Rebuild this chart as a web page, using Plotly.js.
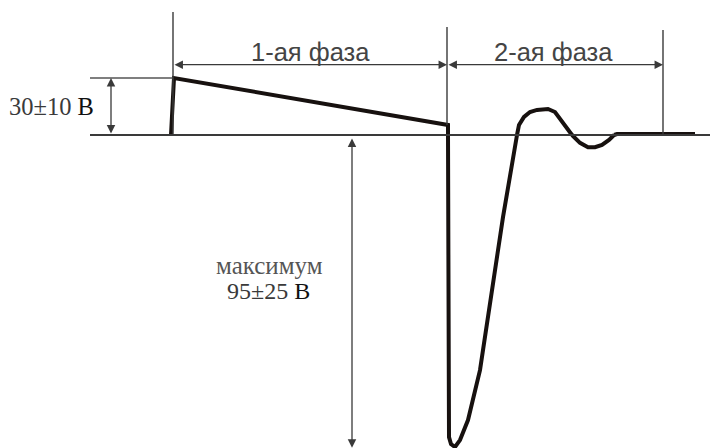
<!DOCTYPE html>
<html>
<head>
<meta charset="utf-8">
<script src="https://cdn.plot.ly/plotly-3.0.1.min.js"></script>
<style>
  html, body { margin: 0; padding: 0; background: #fff; }
  #chart { width: 710px; height: 448px; }
</style>
</head>
<body>
<div id="chart"></div>
<script>
// Dimension values (volts) and their captions
const stepLevel = 30;
const dipMax = 95;
const stepLabel = '30±10 В';
const dipLabelTop = 'максимум';
const dipLabelBottom = '95±25 В';

// Phase boundaries (time, schematic units) and phase captions
const phaseEdges = [173, 447, 663];
const phaseLabels = ['1-ая фаза', '2-ая фаза'];

// Waveform pieces: positive parts use the upper voltage scale,
// negative parts use the lower (compressed) voltage scale
const phase1T = [171, 174, 448, 448];
const phase1V = [0, 30, 5.3, 0];
const dipT = [448, 448, 449, 451, 455, 460, 468, 480, 503, 517];
const dipV = [0, -88.3, -92, -94.1, -95, -92.9, -86.8, -71.6, -25, 0];
const overshootT = [517, 519, 524, 530, 537, 544, 548, 555, 563, 572];
const overshootV = [0, 5.3, 9.5, 12.1, 13.2, 13.7, 13.7, 12.1, 6.8, 0];
const undershootT = [572, 580, 588, 595, 602, 609, 614];
const undershootV = [0, -2.4, -3.7, -3.7, -3.0, -1.5, 0];
const settleT = [614, 617, 695];
const settleV = [0, 0.5, 0.5];

// Page geometry
const W = 710, H = 448;
const basePx = 135;           // zero-volt line, px from top
const upScale = 57 / stepLevel;   // px per volt above zero
const lowScale = 312 / dipMax;    // px per volt below zero
const upBottomPx = 160, lowTopPx = 110;

const pulseLine = { color: '#17110f', width: 4 };
function seg(t, v, axis) {
  return { x: t, y: v, yaxis: axis, type: 'scatter', mode: 'lines',
           line: pulseLine, hoverinfo: 'skip', showlegend: false };
}
const traces = [
  seg(phase1T, phase1V, 'y'),
  seg(dipT, dipV, 'y2'),
  seg(overshootT, overshootV, 'y'),
  seg(undershootT, undershootV, 'y2'),
  seg(settleT, settleV, 'y')
];

const thin = { color: '#3a3a3a', width: 1.4 };
const dimY = 37;   // level of the phase dimension arrows (upper scale)
const shapes = [
  // zero line
  { type: 'line', xref: 'x', yref: 'y', x0: 90, x1: 710, y0: 0, y1: 0,
    line: { color: '#3a3a3a', width: 1.8 } },
  // step level reference
  { type: 'line', xref: 'x', yref: 'y', x0: 90, x1: phaseEdges[0], y0: stepLevel, y1: stepLevel,
    line: { color: '#555', width: 1.4 } },
  // phase extension lines
  { type: 'line', xref: 'x', yref: 'y', x0: phaseEdges[0], x1: phaseEdges[0], y0: 0, y1: 64.7, line: thin },
  { type: 'line', xref: 'x', yref: 'y', x0: phaseEdges[1], x1: phaseEdges[1], y0: 5.3, y1: 56.8, line: thin },
  { type: 'line', xref: 'x', yref: 'y', x0: phaseEdges[2], x1: phaseEdges[2], y0: 0.5, y1: 55.3, line: thin }
];

function dimArrow(x0, y0, x1, y1, yref) {
  return { xref: 'x', yref: yref, axref: 'x', ayref: yref,
           x: x1, y: y1, ax: x0, ay: y0, text: '', showarrow: true,
           arrowside: 'end+start', arrowhead: 2, startarrowhead: 2,
           arrowsize: 1.3, startarrowsize: 1.3, arrowwidth: 1.3,
           arrowcolor: '#3a3a3a', standoff: 0, startstandoff: 0 };
}
const serif = 'Liberation Serif, Times New Roman, serif';
const sans = 'Liberation Sans, Arial, sans-serif';
const annotations = [
  dimArrow(111, 0, 111, stepLevel, 'y'),
  dimArrow(phaseEdges[0], dimY, phaseEdges[1], dimY, 'y'),
  dimArrow(phaseEdges[1], dimY, phaseEdges[2], dimY, 'y'),
  dimArrow(352, -0.6, 352, -dipMax - 0.2, 'y2'),
  { xref: 'x', yref: 'y', x: 51, y: stepLevel / 2, text: stepLabel.replace('В', '<span style="color:#111">В</span>'),
    showarrow: false, font: { family: serif, size: 24.5, color: '#3a3a3a' } },
  { xref: 'x', yref: 'y', x: (phaseEdges[0] + phaseEdges[1]) / 2, y: 43.7, text: phaseLabels[0],
    showarrow: false, font: { family: sans, size: 25.5, color: '#444' } },
  { xref: 'x', yref: 'y', x: (phaseEdges[1] + phaseEdges[2]) / 2 - 2, y: 43.7, text: phaseLabels[1],
    showarrow: false, font: { family: sans, size: 25.5, color: '#444' } },
  { xref: 'x', yref: 'y2', x: 269, y: -(265 - basePx) / lowScale, text: dipLabelTop,
    showarrow: false, font: { family: serif, size: 25, color: '#555' } },
  { xref: 'x', yref: 'y2', x: 268, y: -(291 - basePx) / lowScale,
    text: dipLabelBottom.replace('В', '<span style="color:#111">В</span>'),
    showarrow: false, font: { family: serif, size: 24, color: '#3a3a3a' } }
];

const hidden = { visible: false, showgrid: false, zeroline: false, fixedrange: true };
const layout = {
  width: W, height: H,
  margin: { l: 0, r: 0, t: 0, b: 0, pad: 0 },
  paper_bgcolor: '#fff', plot_bgcolor: 'rgba(0,0,0,0)',
  showlegend: false,
  xaxis: Object.assign({ range: [0, W], domain: [0, 1] }, hidden),
  yaxis: Object.assign({ domain: [(H - upBottomPx) / H, 1], anchor: 'x',
    range: [-(upBottomPx - basePx) / upScale, basePx / upScale] }, hidden),
  yaxis2: Object.assign({ domain: [0, (H - lowTopPx) / H], anchor: 'x',
    range: [-(H - basePx) / lowScale, (basePx - lowTopPx) / lowScale] }, hidden),
  shapes: shapes,
  annotations: annotations
};

Plotly.newPlot('chart', traces, layout, { displayModeBar: false, staticPlot: true });
</script>
</body>
</html>
